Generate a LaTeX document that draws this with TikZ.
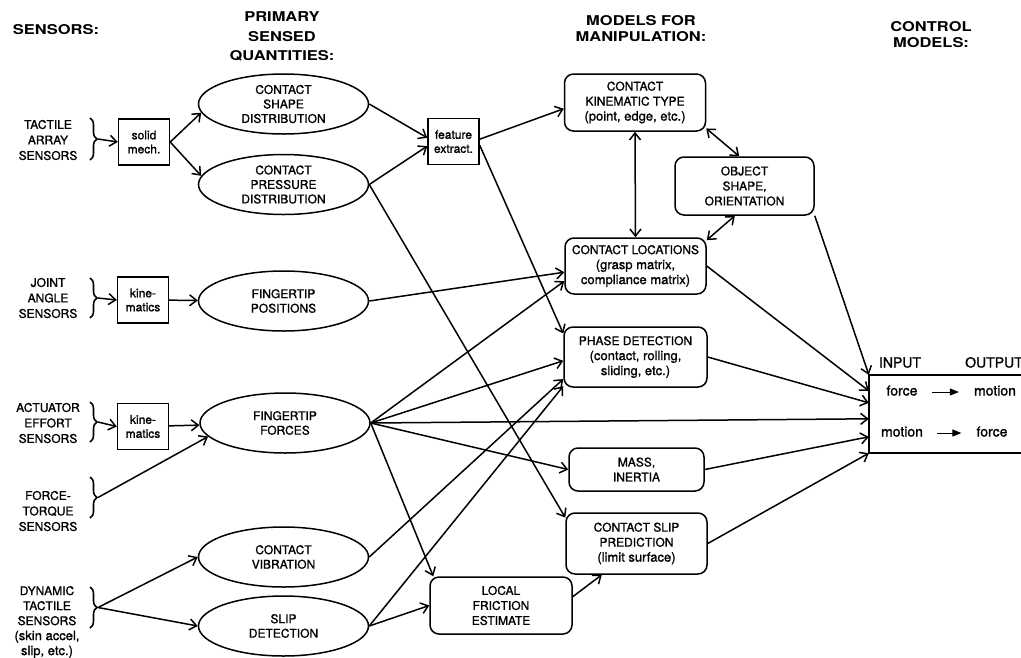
\documentclass[tikz,border=0pt]{standalone}
\usepackage{fontspec}
\setmainfont[FakeBold=1.2]{TeX Gyre Heros}
\newfontfamily\headfont[FakeStretch=1.22]{TeX Gyre Heros}
\newcommand\lcsz[1]{{\fontsize{13}{15}\selectfont #1}}
\usetikzlibrary{shapes.geometric,arrows.meta,decorations.pathreplacing}

\begin{document}
\begin{tikzpicture}[x=1pt, y=-1pt,
	>={Straight Barb[length=7pt,width=11pt]},
	qty/.style={draw, ellipse, line width=1.5pt, minimum width=170pt, minimum height=60pt,
		inner sep=0pt, align=center, font=\fontsize{12}{14.5}\selectfont},
	model/.style={draw, rounded corners=9pt, line width=1.5pt, minimum width=141pt,
		minimum height=57pt, inner sep=1pt, align=center, font=\fontsize{12}{15}\selectfont},
	proc/.style={draw, line width=1.4pt, minimum width=51pt, minimum height=46pt,
		inner sep=1pt, align=center, font=\fontsize{12}{14}\selectfont},
	sensor/.style={align=center, font=\fontsize{12}{15.5}\selectfont},
	head/.style={align=center, font=\headfont\bfseries\fontsize{13.5}{16}\selectfont},
	io/.style={inner sep=0pt, text height=10pt, text depth=3pt, font=\fontsize{14}{16}\selectfont},
	link/.style={->, line width=1.5pt},
	iolink/.style={-{Triangle[length=9pt,width=7pt]}, line width=1pt, shorten <=14pt, shorten >=15pt},
	brc/.style={decorate, decoration={brace, amplitude=7pt}, line width=1.6pt}]

\def \bx {90} % x of the sensor braces

\useasboundingbox (0,0) rectangle (1021,657);

% column heads
\node[head] (hsens) at (56,30) {SENSORS:};
\node[head, font=\headfont\bfseries\fontsize{13.5}{19.5}\selectfont] (hprim) at (282,36.5) {PRIMARY\\SENSED\\QUANTITIES:};
\node[head] (hmod) at (641,29) {MODELS FOR\\MANIPULATION:};
\node[head] (hctl) at (931,35) {CONTROL\\MODELS:};

% sensors
\node[sensor] (tas) at (48,140) {TACTILE\\ARRAY\\SENSORS};
\node[sensor] (jas) at (48,298) {JOINT\\ANGLE\\SENSORS};
\node[sensor] (aes) at (48,423) {ACTUATOR\\EFFORT\\SENSORS};
\node[sensor] (fts) at (48,511) {FORCE-\\TORQUE\\SENSORS};
\node[sensor, font=\fontsize{12}{15}\selectfont] (dts) at (47,622) {DYNAMIC\\TACTILE\\SENSORS\\\lcsz{(skin accel,}\\\lcsz{slip, etc.)}};

\foreach \ya/\yb/\nm in {118/160/tab, 278/318/jab, 402/442/aeb, 477/518/ftb, 587/628/dtb}
{
	\draw[brc] (\bx,\ya) -- (\bx,\yb);
	\coordinate (\nm) at (\bx+8,{(\ya+\yb)/2});
}

\node[proc] (solid) at (144,142) {solid\\mech.};
\node[proc] (kin1) at (143,300) {kine-\\matics};
\node[proc] (kin2) at (143,426.5) {kine-\\matics};
\node[proc] (feat) at (453.5,141.5) {feature\\extract.};

% primary sensed quantities
\node[qty] (cshape) at (283.5,104) {CONTACT\\SHAPE\\DISTRIBUTION};
\node[qty] (cpress) at (283.5,184.5) {CONTACT\\PRESSURE\\DISTRIBUTION};
\node[qty] (fpos) at (283.5,301) {FINGERTIP\\POSITIONS};
\node[qty] (fforce) at (285,423) {FINGERTIP\\FORCES};
\node[qty] (cvib) at (283.5,557) {CONTACT\\VIBRATION};
\node[qty] (slipd) at (283.5,626) {SLIP\\DETECTION};

% models for manipulation
\node[model] (kintype) at (635,102.5) {CONTACT\\KINEMATIC TYPE\\\lcsz{(point, edge, etc.)}};
\node[model, minimum width=139pt, minimum height=58pt] (objsh) at (744.5,186) {OBJECT\\SHAPE,\\ORIENTATION};
\node[model, minimum height=56pt] (cloc) at (635.5,266) {CONTACT LOCATIONS\\\lcsz{(grasp matrix,}\\\lcsz{compliance matrix)}};
\node[model, minimum width=143pt, minimum height=60pt] (phase) at (635.5,357) {PHASE DETECTION\\\lcsz{(contact, rolling,}\\\lcsz{sliding, etc.)}};
\node[model, minimum width=135pt, minimum height=43pt] (mass) at (636.5,469.5) {MASS,\\INERTIA};
\node[model, minimum height=61pt] (cslip) at (636.5,543.5) {CONTACT SLIP\\PREDICTION\\\lcsz{(limit surface)}};
\node[model, minimum width=142pt] (lfric) at (501,605.5) {LOCAL\\FRICTION\\ESTIMATE};

% control models
\node[minimum width=200pt, minimum height=78pt, inner sep=0pt] (ctrl) at (969,414) {};
\draw[line width=1.5pt] (ctrl.north east) -- (ctrl.north west) -- (ctrl.south west) -- (ctrl.south east);
\node[io] (inp) at (900,364) {INPUT};
\node[io, anchor=west] (outp) at (965,364) {OUTPUT};
\node[io] (f1) at (902,392) {force};
\node[io] (m1) at (995,392) {motion};
\node[io] (m2) at (902,433) {motion};
\node[io] (f2) at (992,433) {force};
\draw[iolink] (f1) -- (m1);
\draw[iolink] (m2) -- (f2);

% sensors to quantities
\draw[link] (tab) -- (solid.west);
\draw[link] (solid.east) -- (cshape.186);
\draw[link] (solid.east) -- (cpress.174);
\draw[link] (jab) -- (kin1.west);
\draw[link] (kin1) -- (fpos);
\draw[link] (aeb) -- (kin2.west);
\draw[link] (kin2) -- (fforce);
\draw[link] (ftb) -- (fforce.190);
\draw[link] (dtb) -- (cvib.west);
\draw[link] (dtb) -- (slipd.west);

% quantities to models
\draw[link] (cshape.east) -- (feat.172);
\draw[link] (cpress.east) -- (feat.190);
\draw[link] (feat.5) -- (kintype.185);
\draw[link] (feat.-8) -- (phase.162);
\draw[link] (cpress.east) -- (cslip.160);
\draw[link] (fpos.east) -- (cloc.185);
\foreach \t in {cloc.192, phase.183, mass.west}
	\draw[link] (fforce.east) -- (\t);
\draw[link] (fforce.east) -- ([yshift=-44pt]ctrl.north west);
\draw[link] (fforce.east) -- ([xshift=4pt]lfric.north west);
\draw[link] (cvib.east) -- (phase.197);
\draw[link] (slipd.east) -- (phase.202);
\draw[link] (slipd.east) -- (lfric.west);
\draw[link] (lfric.7) -- (cslip.222);

\draw[link, <->] (kintype.south) -- (cloc.north);
\draw[link, <->] (kintype.-20) -- (objsh.100);
\draw[link, <->] (cloc.20) -- (objsh.252);

% models to control
\draw[link] (objsh.south east) -- (ctrl.north west);
\draw[link] (cloc.east) -- ([yshift=-16pt]ctrl.north west);
\draw[link] (phase.east) -- ([yshift=-28pt]ctrl.north west);
\draw[link] (mass.east) -- ([yshift=-62pt]ctrl.north west);
\draw[link] (cslip.east) -- (ctrl.south west);
\end{tikzpicture}
\end{document}
